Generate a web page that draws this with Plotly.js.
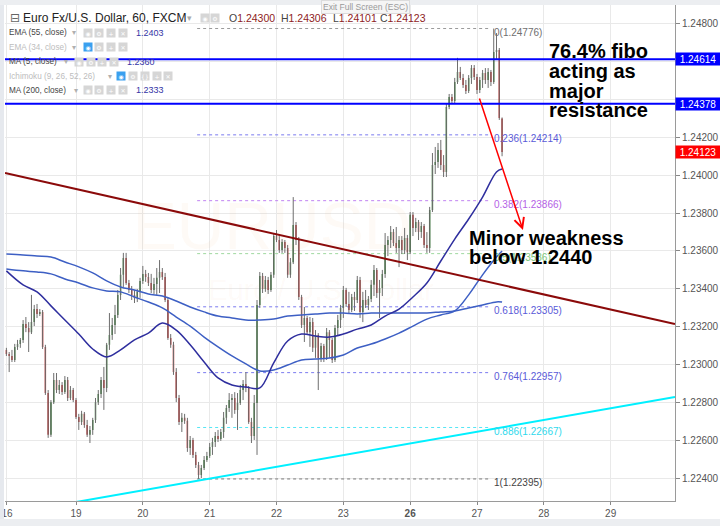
<!DOCTYPE html>
<html><head><meta charset="utf-8">
<script src="https://cdn.plot.ly/plotly-3.0.1.min.js"></script>
<style>html,body{margin:0;padding:0;background:#fff;}#chart{width:720px;height:526px;}</style>
</head><body><div id="chart"></div>
<script>
// ---------------- data (EUR/USD, 60 min, FXCM) ----------------
const firstBar = -1;
const opens = [1.23077,1.23056,1.23045,1.23024,1.23093,1.23109,1.23130,1.23214,1.23193,1.23171,
1.23224,1.23293,1.23267,1.23277,1.23093,1.22849,1.22628,1.22801,1.22918,1.22865,
1.22892,1.22854,1.22918,1.22823,1.22865,1.22812,1.22723,1.22696,1.22739,1.22680,
1.22628,1.22654,1.22707,1.22801,1.22844,1.22918,1.22876,1.23104,1.23156,1.23209,
1.23262,1.23368,1.23474,1.23563,1.23431,1.23394,1.23368,1.23352,1.23384,1.23442,
1.23479,1.23463,1.23431,1.23394,1.23426,1.23458,1.23489,1.23463,1.23341,1.23140,
1.23104,1.22960,1.22823,1.22696,1.22718,1.22702,1.22559,1.22601,1.22522,1.22469,
1.22416,1.22453,1.22495,1.22516,1.22564,1.22590,1.22622,1.22606,1.22643,1.22718,
1.22770,1.22812,1.22823,1.22760,1.22796,1.22865,1.22897,1.22876,1.22696,1.22622,
1.22796,1.23315,1.23468,1.23399,1.23447,1.23394,1.23474,1.23679,1.23658,1.23605,
1.23647,1.23616,1.23474,1.23541,1.23738,1.23658,1.23357,1.23209,1.23246,1.23171,
1.23224,1.23088,1.23156,1.23035,1.23098,1.23035,1.23171,1.23130,1.23024,1.23193,
1.23235,1.23299,1.23394,1.23320,1.23288,1.23357,1.23341,1.23447,1.23277,1.23341,
1.23315,1.23346,1.23421,1.23500,1.23378,1.23405,1.23479,1.23632,1.23658,1.23700,
1.23642,1.23616,1.23658,1.23605,1.23669,1.23594,1.23791,1.23722,1.23753,1.23700,
1.23732,1.23632,1.23616,1.23817,1.24055,1.24071,1.24134,1.24055,1.24018,1.24361,
1.24414,1.24393,1.24493,1.24546,1.24515,1.24478,1.24446,1.24515,1.24567,1.24520,
1.24451,1.24504,1.24541,1.24504,1.24546,1.24493,1.24652,1.24663,1.24300];
const highs = [1.23088,1.23066,1.23077,1.23109,1.23130,1.23140,1.23235,1.23251,1.23224,1.23368,
1.23315,1.23320,1.23293,1.23288,1.23104,1.22865,1.22812,1.22955,1.22955,1.22918,
1.22907,1.22939,1.22934,1.22886,1.22876,1.22823,1.22739,1.22755,1.22749,1.22707,
1.22675,1.22718,1.22823,1.22865,1.22934,1.22987,1.23114,1.23272,1.23246,1.23315,
1.23394,1.23510,1.23590,1.23590,1.23447,1.23415,1.23394,1.23399,1.23458,1.23521,
1.23500,1.23484,1.23479,1.23458,1.23510,1.23552,1.23510,1.23484,1.23352,1.23161,
1.23120,1.22981,1.22839,1.22744,1.22739,1.22718,1.22622,1.22612,1.22538,1.22485,
1.22469,1.22516,1.22538,1.22585,1.22612,1.22643,1.22654,1.22659,1.22749,1.22786,
1.22849,1.22844,1.22854,1.22849,1.22892,1.22918,1.22960,1.22886,1.22718,1.22839,
1.23341,1.23489,1.23484,1.23468,1.23463,1.23489,1.23695,1.23711,1.23679,1.23663,
1.23658,1.23632,1.23563,1.23885,1.23753,1.23674,1.23368,1.23304,1.23256,1.23251,
1.23246,1.23182,1.23166,1.23114,1.23109,1.23193,1.23182,1.23140,1.23209,1.23262,
1.23315,1.23415,1.23405,1.23384,1.23373,1.23384,1.23468,1.23463,1.23384,1.23394,
1.23362,1.23447,1.23526,1.23510,1.23447,1.23500,1.23695,1.23679,1.23732,1.23716,
1.23727,1.23679,1.23679,1.23722,1.23685,1.23806,1.23806,1.23775,1.23764,1.23753,
1.23743,1.23700,1.23833,1.24118,1.24150,1.24171,1.24187,1.24107,1.24377,1.24430,
1.24430,1.24515,1.24621,1.24573,1.24536,1.24504,1.24530,1.24583,1.24583,1.24536,
1.24520,1.24557,1.24567,1.24567,1.24557,1.24776,1.24752,1.24673,1.24306];
const lows = [1.23045,1.22960,1.23013,1.23013,1.23077,1.23088,1.23114,1.23171,1.23066,1.23161,
1.23203,1.23246,1.23256,1.23082,1.22839,1.22612,1.22617,1.22791,1.22849,1.22844,
1.22839,1.22844,1.22807,1.22812,1.22801,1.22712,1.22654,1.22680,1.22665,1.22617,
1.22585,1.22628,1.22691,1.22786,1.22823,1.22760,1.22854,1.23077,1.23130,1.23161,
1.23246,1.23341,1.23410,1.23421,1.23378,1.23341,1.23325,1.23330,1.23352,1.23426,
1.23437,1.23415,1.23378,1.23373,1.23368,1.23378,1.23447,1.23330,1.23130,1.23088,
1.22945,1.22801,1.22680,1.22643,1.22686,1.22538,1.22522,1.22506,1.22453,1.22395,
1.22400,1.22442,1.22485,1.22506,1.22522,1.22564,1.22590,1.22596,1.22612,1.22686,
1.22749,1.22718,1.22739,1.22654,1.22786,1.22812,1.22854,1.22686,1.22585,1.22601,
1.22522,1.23299,1.23378,1.23384,1.23373,1.23384,1.23458,1.23647,1.23590,1.23590,
1.23590,1.23458,1.23458,1.23531,1.23632,1.23341,1.23193,1.23119,1.23156,1.23093,
1.23066,1.23035,1.22865,1.23013,1.23013,1.23024,1.23035,1.23008,1.23013,1.23156,
1.23193,1.23246,1.23304,1.23267,1.23277,1.23283,1.23325,1.23246,1.23224,1.23299,
1.23288,1.23330,1.23362,1.23352,1.23246,1.23362,1.23458,1.23573,1.23616,1.23626,
1.23590,1.23515,1.23584,1.23584,1.23552,1.23584,1.23679,1.23700,1.23658,1.23669,
1.23616,1.23590,1.23590,1.23806,1.24007,1.24039,1.24028,1.23991,1.23991,1.24350,
1.24382,1.24382,1.24483,1.24504,1.24462,1.24430,1.24435,1.24483,1.24504,1.24430,
1.24435,1.24462,1.24483,1.24462,1.24472,1.24483,1.24610,1.24293,1.24101];
const closes = [1.23056,1.23045,1.23024,1.23093,1.23109,1.23130,1.23214,1.23193,1.23171,1.23224,
1.23293,1.23267,1.23277,1.23093,1.22849,1.22628,1.22801,1.22918,1.22865,1.22892,
1.22854,1.22918,1.22823,1.22865,1.22812,1.22723,1.22696,1.22739,1.22680,1.22628,
1.22654,1.22707,1.22801,1.22844,1.22918,1.22876,1.23104,1.23156,1.23209,1.23262,
1.23368,1.23474,1.23563,1.23431,1.23394,1.23368,1.23352,1.23384,1.23442,1.23479,
1.23463,1.23431,1.23394,1.23426,1.23458,1.23489,1.23463,1.23341,1.23140,1.23104,
1.22960,1.22823,1.22696,1.22718,1.22702,1.22559,1.22601,1.22522,1.22469,1.22416,
1.22453,1.22495,1.22516,1.22564,1.22590,1.22622,1.22606,1.22643,1.22718,1.22770,
1.22812,1.22823,1.22760,1.22796,1.22865,1.22897,1.22876,1.22696,1.22622,1.22796,
1.23315,1.23468,1.23399,1.23447,1.23394,1.23474,1.23679,1.23658,1.23605,1.23647,
1.23616,1.23474,1.23541,1.23738,1.23658,1.23357,1.23209,1.23246,1.23171,1.23224,
1.23088,1.23156,1.23035,1.23098,1.23035,1.23171,1.23130,1.23024,1.23193,1.23235,
1.23299,1.23394,1.23320,1.23288,1.23357,1.23341,1.23447,1.23277,1.23341,1.23315,
1.23346,1.23421,1.23500,1.23378,1.23405,1.23479,1.23632,1.23658,1.23700,1.23642,
1.23616,1.23658,1.23605,1.23669,1.23594,1.23791,1.23722,1.23753,1.23700,1.23732,
1.23632,1.23616,1.23817,1.24055,1.24071,1.24134,1.24055,1.24018,1.24361,1.24414,
1.24393,1.24493,1.24546,1.24515,1.24478,1.24446,1.24515,1.24567,1.24520,1.24451,
1.24504,1.24541,1.24504,1.24546,1.24493,1.24652,1.24663,1.24303,1.24123];

const dayTickPos  = [-0.8, 24, 48, 72, 96, 120, 144, 168, 192, 216];
const dayTickText = ['16','19','20','21','22','23','26','27','28','29'];
const weekStartLabel = '26';

const maIdx = [-1,5,10,15,20,25,30,35,40,45,50,55,60,65,70,75,80,85,90,95,100,105,110,115,120,125,130,135,140,145,150,155,160,165,170,175,177];
const ema55 = [1.23495,1.23421,1.23384,1.23310,1.23235,1.23161,1.23082,1.23040,1.23077,1.23130,1.23166,1.23219,1.23182,1.23104,1.23013,1.22929,1.22892,1.22881,1.22876,1.23008,1.23124,1.23161,1.23150,1.23145,1.23161,1.23187,1.23209,1.23256,1.23293,1.23357,1.23431,1.23547,1.23663,1.23769,1.23885,1.24018,1.24033];
const ma5 = [1.23505,1.23495,1.23489,1.23479,1.23452,1.23431,1.23405,1.23389,1.23384,1.23357,1.23330,1.23299,1.23251,1.23203,1.23145,1.23093,1.23045,1.23003,1.22966,1.22971,1.22997,1.23024,1.23029,1.23034,1.23050,1.23087,1.23108,1.23135,1.23166,1.23203,1.23240,1.23262,1.23283,1.23368,1.23474,1.23568,1.23600];
const ma200 = [1.23584,1.23579,1.23573,1.23568,1.23542,1.23516,1.23484,1.23442,1.23410,1.23394,1.23373,1.23362,1.23336,1.23304,1.23278,1.23256,1.23246,1.23235,1.23235,1.23240,1.23256,1.23262,1.23267,1.23272,1.23272,1.23267,1.23272,1.23272,1.23272,1.23272,1.23272,1.23278,1.23283,1.23299,1.23315,1.23331,1.23330];

const fibRatios = ['0','0.236','0.382','0.5','0.618','0.764','0.886','1'];
const fibPrices = [1.24776,1.24214,1.23866,1.23586,1.23305,1.22957,1.22667,1.22395];
const fibFromBar = 67.5, fibToBar = 172.7;
const resistanceLevels = [1.24614, 1.24378];
const downTrend = {bar:[-1.5, 239.1], price:[1.24012, 1.23214]};
const upTrend   = {bar:[24, 239.1],   price:[1.22273, 1.22828]};
const arrowFrom = {bar:168.7, price:1.24414};
const arrowTo   = {bar:184.5, price:1.23711};
const yTickVals = [1.224,1.226,1.228,1.230,1.232,1.234,1.236,1.238,1.240,1.242,1.244,1.246,1.248];
const yTickText = ['1.22400','1.22600','1.22800','1.23000','1.23200','1.23400','1.23600','1.23800','1.24000','1.24200','','','1.24800'];

// ---------------- geometry / styles ----------------
const X0=5, PW=670, Y0=5, PH=496;
const xRange=[-1.5, 239.1], yRange=[1.222784, 1.249004];
const px = x => (x-X0)/PW;
const py = y => (Y0+PH-y)/PH;
const xFromPx = x => xRange[0] + (x-X0)/PW*(xRange[1]-xRange[0]);
const yFromPx = y => yRange[1] - (y-Y0)/PH*(yRange[1]-yRange[0]);
const FONT = '"Liberation Sans", Arial, sans-serif';
const UP='#237023', DN='#c01a1a', WICK='#6e6e6e';

const bars = closes.map((_,i)=>firstBar+i);
const wx=[], wy=[];
bars.forEach((b,i)=>{ wx.push(b,b,null); wy.push(lows[i],highs[i],null); });
const bodyHi = opens.map((o,i)=>Math.max(o,closes[i]));
const bodyLo = opens.map((o,i)=>Math.min(o,closes[i]));

const traces = [
  {type:'scatter', mode:'text', x:[xFromPx(272), xFromPx(321)], y:[yFromPx(232), yFromPx(293)],
   text:['EURUSD','Euro / U.S. Dollar'], textfont:{family:FONT, size:[66,29], color:'rgba(245,150,80,0.05)'},
   hoverinfo:'skip', cliponaxis:false},
  {type:'scatter', mode:'lines', x:wx, y:wy, line:{color:WICK, width:1}, hoverinfo:'skip', connectgaps:false},
  {type:'candlestick', x:bars, open:opens, close:closes, high:bodyHi, low:bodyLo, whiskerwidth:0,
   increasing:{line:{color:UP,width:0}, fillcolor:UP}, decreasing:{line:{color:DN,width:0}, fillcolor:DN}, hoverinfo:'skip'},
  {type:'scatter', mode:'lines', x:maIdx, y:ma200, line:{color:'#3d5fc4', width:1.5, shape:'spline', smoothing:1}, hoverinfo:'skip'},
  {type:'scatter', mode:'lines', x:maIdx, y:ma5, line:{color:'#3d5fc4', width:1.5, shape:'spline', smoothing:1}, hoverinfo:'skip'},
  {type:'scatter', mode:'lines', x:maIdx, y:ema55, line:{color:'#2e2e9e', width:1.5, shape:'spline', smoothing:1}, hoverinfo:'skip'}
];

const fibLineColors = ['#9a9a9a','#7b7bef','#c183f2','#9fd99f','#7b7bef','#7b7bef','#55e6f5','#7a7a7a'];
const fibTextColors = ['#707070','#5a5ad8','#b462e6','#7cc77c','#5a5ad8','#5a5ad8','#2fd9ec','#444444'];

const shapes = [];
shapes.push({type:'rect', xref:'paper', yref:'paper', x0:px(0), x1:px(4), y0:py(526), y1:py(0), fillcolor:'#e6e9ee', line:{width:0}});
shapes.push({type:'rect', xref:'paper', yref:'paper', x0:px(0), x1:px(720), y0:py(5), y1:py(0), fillcolor:'#eceef1', line:{width:0}});
shapes.push({type:'rect', xref:'paper', yref:'paper', x0:px(0), x1:px(720), y0:py(526), y1:py(519), fillcolor:'#eceef1', line:{width:0}});
fibPrices.forEach((p,i)=>shapes.push({type:'line', layer:'between', xref:'x', yref:'y', x0:fibFromBar, x1:fibToBar, y0:p, y1:p,
  line:{color:fibLineColors[i], width:1, dash:'dot'}}));
resistanceLevels.forEach(p=>shapes.push({type:'line', xref:'paper', yref:'y', x0:0, x1:1, y0:p, y1:p, line:{color:'#0000ff', width:2}}));
shapes.push({type:'line', xref:'x', yref:'y', x0:downTrend.bar[0], x1:downTrend.bar[1], y0:downTrend.price[0], y1:downTrend.price[1], line:{color:'#8b0a0a', width:2}});
shapes.push({type:'line', xref:'x', yref:'y', x0:upTrend.bar[0], x1:upTrend.bar[1], y0:upTrend.price[0], y1:upTrend.price[1], line:{color:'#00f0ff', width:2}});

const ann = [];
const txt = (x,y,text,size,color,extra)=>Object.assign({xref:'paper',yref:'paper',x:px(x),y:py(y),xanchor:'left',yanchor:'middle',
  text:text,showarrow:false,font:{family:FONT,size:size,color:color}},extra||{});
const icon = (x,y,glyph,bg)=>({xref:'paper',yref:'paper',x:px(x),y:py(y),xanchor:'left',yanchor:'middle',text:glyph,showarrow:false,
  font:{family:'DejaVu Sans',size:6,color:'#fff'},bgcolor:bg,width:8,height:8,borderpad:0});
const GR='#d6d6d6', BL='#3aa0ef';

// fib labels
fibPrices.forEach((p,i)=>ann.push({xref:'paper', yref:'y', x:px(492), y:p, xanchor:'left', yanchor:'middle', yshift:-4,
  text:fibRatios[i]+'('+p.toFixed(5)+')', showarrow:false, font:{family:FONT, size:10, color:fibTextColors[i]}}));

// header
ann.push({xref:'paper',yref:'paper',x:px(366),y:py(0),xanchor:'center',yanchor:'top',text:'Exit Full Screen (ESC)',showarrow:false,
  font:{family:FONT,size:8.5,color:'#9a9a9a'},bgcolor:'#f5f5f5',bordercolor:'#dcdcdc',borderwidth:1,borderpad:1});
ann.push(txt(8,18,'⊟',12,'#666',{font:{family:'DejaVu Sans',size:12,color:'#666'}}));
ann.push(txt(21,18,'Euro Fx/U.S. Dollar, 60, FXCM',12,'#222'));
ann.push(txt(185,18,'▾',9,'#aaa'));
ann.push(icon(200,18,'◉',GR)); ann.push(icon(210,18,'⚙',GR));
const last = closes.length-1;
const ohlc = [['O',opens[last],227],['H',highs[last],279],['L',lows[last],331],['C',closes[last],378]];
ohlc.forEach(([k,v,x])=>ann.push(txt(x,18,k+'<span style="color:#8e1c1c">'+v.toFixed(5)+'</span>',10.5,'#444')));

const rows = [
  {name:'EMA (55, close)', y:33, on:true, caret:70, icons:[83,94,106,118], val:ema55[ema55.length-1], vx:134},
  {name:'EMA (34, close)', y:47, on:false, caret:70, icons:[83,94,106,118]},
  {name:'MA (5, close)', y:62, on:true, caret:62, icons:[74,86,97,109], val:ma5[ma5.length-1], vx:125},
  {name:'Ichimoku (9, 26, 52, 26)', y:76, on:false, caret:106, icons:[116,128,140,152,163], extra:true},
  {name:'MA (200, close)', y:90, on:true, caret:72, icons:[83,94,106,118], val:ma200[ma200.length-1], vx:134}
];
rows.forEach(r=>{
  ann.push(txt(7,r.y,r.name,8.2,r.on?'#444':'#bdbdbd'));
  ann.push(txt(r.caret,r.y,'▾',8,'#b0b0b0'));
  const glyphs = r.extra ? ['◉','⚙','{}','+','✕'] : ['◉','⚙','+','✕'];
  r.icons.forEach((x,j)=>ann.push(icon(x,r.y,glyphs[j], (!r.on && j===0)?BL:GR)));
  if(r.val!==undefined) ann.push(txt(r.vx,r.y,r.val.toFixed(4),9,'#3535a6'));
});

// price boxes on the axis
resistanceLevels.forEach(p=>ann.push({xref:'paper',yref:'y',x:1,y:p,xanchor:'left',yanchor:'middle',text:p.toFixed(5),showarrow:false,
  font:{family:FONT,size:10,color:'#fff'},bgcolor:'#0000ff',width:44,height:12,borderpad:0}));
ann.push({xref:'paper',yref:'y',x:1,y:closes[last],xanchor:'left',yanchor:'middle',text:closes[last].toFixed(5),showarrow:false,
  font:{family:FONT,size:10,color:'#fff'},bgcolor:'#ff0000',width:44,height:12,borderpad:0});

// arrow
ann.push({xref:'x',yref:'y',x:arrowTo.bar,y:arrowTo.price,axref:'x',ayref:'y',ax:arrowFrom.bar,ay:arrowFrom.price,text:'',
  showarrow:true,arrowhead:5,arrowsize:1.3,arrowwidth:1.5,arrowcolor:'#ff0000',standoff:0,startstandoff:0});

// commentary
const big = [['76.4% fibo',547,51],['acting as',547,71],['major',547,91],['resistance',547,110],
             ['Minor weakness',467,238],['below 1.2440',467,257]];
big.forEach(([t,x,y])=>ann.push(txt(x,y,'<b>'+t+'</b>',20,'#000')));

const layout = {
  width:720, height:526, margin:{l:X0, r:720-X0-PW, t:Y0, b:526-Y0-PH, pad:0},
  paper_bgcolor:'#fff', plot_bgcolor:'#fff', showlegend:false, hovermode:false, dragmode:false, boxgap:0.28,
  xaxis:{range:xRange, tickvals:dayTickPos, ticktext:dayTickText.map(t=>t===weekStartLabel?'<b>'+t+'</b>':t),
    showgrid:true, gridcolor:'#e9e9e9', gridwidth:1, zeroline:false, ticks:'outside', ticklen:3, tickcolor:'#888',
    tickfont:{family:FONT,size:10,color:'#555'}, showline:true, linecolor:'#9a9a9a', linewidth:1,
    rangeslider:{visible:false}, fixedrange:true},
  yaxis:{range:yRange, side:'right', tickvals:yTickVals, ticktext:yTickText, showgrid:true, gridcolor:'#e9e9e9', gridwidth:1,
    zeroline:false, ticks:'outside', ticklen:4, tickcolor:'#888', tickfont:{family:FONT,size:10,color:'#555'},
    showline:true, linecolor:'#9a9a9a', linewidth:1, fixedrange:true},
  shapes:shapes, annotations:ann
};
Plotly.newPlot('chart', traces, layout, {displayModeBar:false, staticPlot:true});
</script></body></html>
